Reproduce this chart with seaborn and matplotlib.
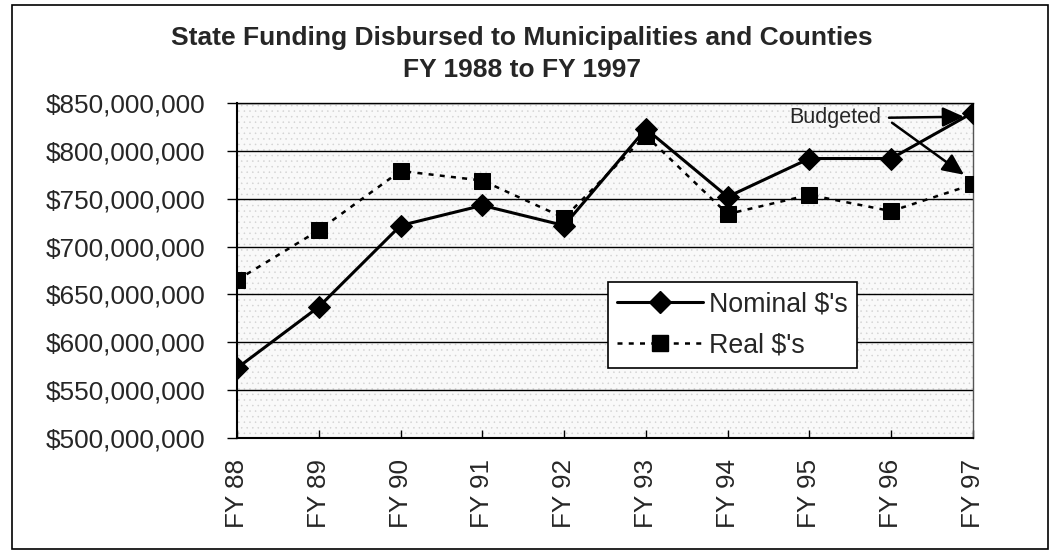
import matplotlib
matplotlib.use("Agg")
import matplotlib.pyplot as plt
from matplotlib.patches import Rectangle
from matplotlib.lines import Line2D
import seaborn as sns
import pandas as pd

# ---- data ----
years = ["FY 88", "FY 89", "FY 90", "FY 91", "FY 92", "FY 93", "FY 94", "FY 95", "FY 96", "FY 97"]
nominal = [573e6, 637e6, 722e6, 743e6, 722e6, 823e6, 752e6, 792e6, 792e6, 840e6]
real = [665e6, 717e6, 779e6, 769e6, 730e6, 816e6, 734e6, 754e6, 737e6, 765e6]
y_ticks = [500e6, 550e6, 600e6, 650e6, 700e6, 750e6, 800e6, 850e6]
y_tick_labels = ["$500,000,000", "$550,000,000", "$600,000,000", "$650,000,000",
                 "$700,000,000", "$750,000,000", "$800,000,000", "$850,000,000"]
title = "State Funding Disbursed to Municipalities and Counties\nFY 1988 to FY 1997"
series_names = ["Nominal $'s", "Real $'s"]
note_text = "Budgeted"

sns.set_style("white")
plt.rcParams["font.family"] = ["Liberation Sans", "DejaVu Sans"]
plt.rcParams["hatch.linewidth"] = 0.35

W, H = 1053, 551
fig = plt.figure(figsize=(W / 100, H / 100), dpi=100)
ax = fig.add_axes([237 / W, 1 - 438 / H, (973 - 237) / W, (438 - 103) / H])

# stippled plot-area background
ax.set_facecolor("#f9f9f9")
ax.add_patch(Rectangle((0, 0), 1, 1, transform=ax.transAxes, facecolor="none",
                       edgecolor="#d2d2d2", hatch="...", lw=0, zorder=0))

xpos = list(range(len(years)))
df = pd.DataFrame({"x": xpos, "Nominal": nominal, "Real": real})

sns.lineplot(data=df, x="x", y="Nominal", ax=ax, color="black", lw=2.2,
             marker="D", markersize=11.5, markeredgecolor="black", zorder=4)
sns.lineplot(data=df, x="x", y="Real", ax=ax, color="black", lw=1.8,
             linestyle=(0, (2, 2.5)), marker="s", markersize=11,
             markeredgecolor="black", zorder=3)

ax.set_xlim(0, len(years) - 1)
ax.set_ylim(500e6, 850e6)
ax.set_yticks(y_ticks)
ax.set_yticklabels(y_tick_labels)
ax.set_xticks(xpos)
ax.set_xticklabels(years, rotation=90)
ax.set_xlabel("")
ax.set_ylabel("")

ax.grid(axis="y", color="black", lw=1.0)
ax.grid(axis="x", visible=False)
ax.set_axisbelow(True)
ax.tick_params(axis="y", direction="out", length=7, width=1, pad=16, labelsize=18.8,
               left=True, color="black")
ax.tick_params(axis="x", direction="in", length=6, width=1, pad=15, labelsize=18.8,
               bottom=True, color="black")
for s in ["left", "bottom"]:
    ax.spines[s].set_color("black")
    ax.spines[s].set_linewidth(1.5)
ax.spines["top"].set_color("black")
ax.spines["top"].set_linewidth(1.0)
ax.spines["right"].set_color("#555555")
ax.spines["right"].set_linewidth(1.0)
ax.spines["right"].set_linestyle((0, (1, 1)))

# legend
handles = [
    Line2D([], [], color="black", lw=2.2, marker="D", markersize=11.5),
    Line2D([], [], color="black", lw=1.8, linestyle=(0, (2, 2.5)), marker="s", markersize=11),
]
leg = ax.legend(handles, series_names, loc="upper left",
                bbox_to_anchor=((608 - 237) / 736, (438 - 282) / 335),
                fontsize=19.3, frameon=True, fancybox=False, shadow=False,
                edgecolor="black", facecolor="white", framealpha=1,
                handlelength=3.2, handletextpad=0.2, borderpad=0.35,
                labelspacing=0.55, borderaxespad=0)
leg.get_frame().set_linewidth(1.2)


def px_to_data(px, py):
    return ((px - 237) / 736 * 9, 850e6 - (py - 103.3) / 0.9563 * 1e6)


tx, ty = px_to_data(789, 118)
ax.text(tx, ty, note_text, fontsize=15.5, ha="left", va="center", zorder=6)
for start, end in [((889, 118), (964, 117)), ((892, 123), (964, 175))]:
    ax.annotate("", xy=px_to_data(*end), xytext=px_to_data(*start),
                arrowprops=dict(arrowstyle="-|>,head_length=0.65,head_width=0.3",
                                mutation_scale=20, color="black", lw=1.8,
                                shrinkA=0, shrinkB=0), zorder=6)

fig.text(522 / W, 1 - 54 / H, title, ha="center", va="center",
         fontsize=19, fontweight="bold", linespacing=1.37)

fig.add_artist(Rectangle((12 / W, 2 / H), 1036 / W, 544 / H, transform=fig.transFigure,
                         fill=False, edgecolor="black", lw=1.2))

fig.savefig("out.png", dpi=100)
